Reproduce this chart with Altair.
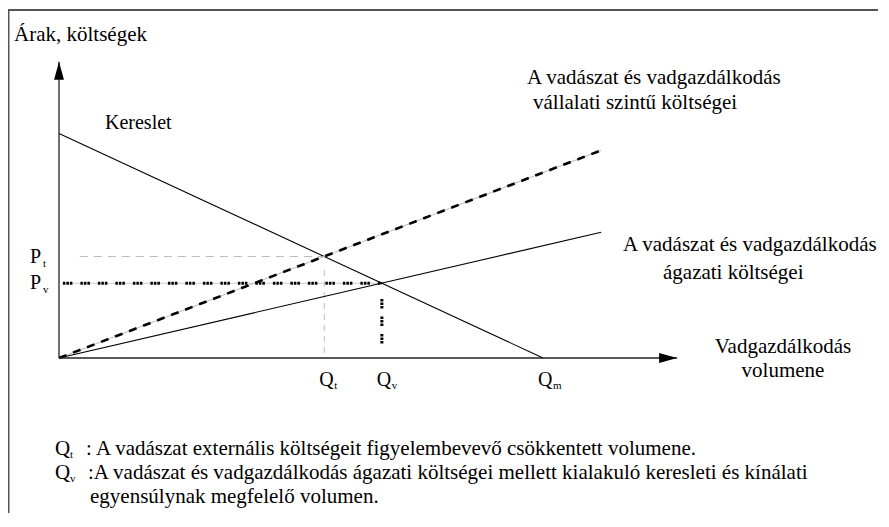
import altair as alt
import pandas as pd

FONT = "Liberation Serif"

# --- economic values ---
demand_q = [0.0, 10.0]
demand_p = [10.0, 0.0]
sector_q = [0.0, 11.2]
sector_p = [0.0, 5.6]
firm_q = [0.0, 11.2]
firm_p = [0.0, 9.25]
axis_x_max = 12.77
axis_y_max = 13.2
Q_v, P_v = 6.67, 3.33
Q_t, P_t = 5.48, 4.52
Q_m = 10.0
q_tick_values = [Q_t, Q_v, Q_m]
q_tick_subs = ["t", "v", "m"]
p_tick_values = [P_t, P_v]
p_tick_subs = ["t", "v"]

W, H = 870, 495
xdom = [-1.054, 16.92]
ydom = [-6.459, 15.59]

xs = alt.Scale(domain=xdom, nice=False, zero=False)
ys = alt.Scale(domain=ydom, nice=False, zero=False)


def seg_df(q, p):
    return pd.DataFrame({"q": [q[0]], "p": [p[0]], "q2": [q[1]], "p2": [p[1]]})


def seg(df, **mk):
    return alt.Chart(df).mark_rule(**mk).encode(
        x=alt.X("q:Q", scale=xs, axis=None),
        y=alt.Y("p:Q", scale=ys, axis=None),
        x2="q2:Q",
        y2="p2:Q",
    )


def label(text, x, y, align="left", size=21):
    return alt.Chart(alt.Data(values=[{}])).mark_text(
        text=text, align=align, baseline="middle", font=FONT, fontSize=size, color="black"
    ).encode(x=alt.value(x), y=alt.value(y))


layers = []

# frame
layers.append(alt.Chart(alt.Data(values=[{}])).mark_rule(color="#555", strokeWidth=2).encode(
    x=alt.value(0), x2=alt.value(W), y=alt.value(2)))
layers.append(alt.Chart(alt.Data(values=[{}])).mark_rule(color="#555", strokeWidth=2).encode(
    x=alt.value(0.5), y=alt.value(1), y2=alt.value(H + 10)))

# guide lines
layers.append(seg(seg_df([0.43, Q_t], [P_t, P_t]), color="#bbbbbb", strokeWidth=1, strokeDash=[8, 6]))
layers.append(seg(seg_df([Q_t, Q_t], [P_t - 0.6, 0]), color="#bbbbbb", strokeWidth=1, strokeDash=[6, 5]))
layers.append(seg(seg_df([0.08, Q_v], [P_v, P_v]), color="#cccccc", strokeWidth=1))
layers.append(seg(seg_df([0.08, Q_v], [P_v, P_v]), color="black", strokeWidth=3, strokeDash=[2.5, 1, 2.5, 1, 2.5, 8]))
layers.append(seg(seg_df([Q_v, Q_v], [P_v - 0.7, 0.4]), color="black", strokeWidth=3, strokeDash=[2.5, 1, 2.5, 1, 2.5, 8]))

# curves
layers.append(seg(seg_df(demand_q, demand_p), color="black", strokeWidth=1.1))
layers.append(seg(seg_df(sector_q, sector_p), color="black", strokeWidth=1.1))
layers.append(seg(seg_df(firm_q, firm_p), color="#bbbbbb", strokeWidth=1))
layers.append(seg(seg_df(firm_q, firm_p), color="black", strokeWidth=2.6, strokeDash=[8, 7]))

# axes
layers.append(seg(seg_df([0, axis_x_max], [0, 0]), color="#222", strokeWidth=1.3))
layers.append(seg(seg_df([0, 0], [0, axis_y_max]), color="#222", strokeWidth=1.3))
layers.append(alt.Chart(pd.DataFrame({"q": [0.0], "p": [axis_y_max]})).mark_point(
    shape="M0,0L0.55,2L-0.55,2Z", size=324, filled=True, color="black", opacity=1).encode(
    x=alt.X("q:Q", scale=xs, axis=None), y=alt.Y("p:Q", scale=ys, axis=None)))
layers.append(alt.Chart(pd.DataFrame({"q": [axis_x_max], "p": [0.0]})).mark_point(
    shape="M0,0L-2,-0.55L-2,0.55Z", size=324, filled=True, color="black", opacity=1).encode(
    x=alt.X("q:Q", scale=xs, axis=None), y=alt.Y("p:Q", scale=ys, axis=None)))

# tick-like labels on axes
qdf = pd.DataFrame({"q": q_tick_values, "sub": q_tick_subs})
layers.append(alt.Chart(qdf).mark_text(text="Q", align="left", baseline="middle", font=FONT,
                                       fontSize=20, color="black", dx=-5).encode(
    x=alt.X("q:Q", scale=xs, axis=None), y=alt.value(372)))
layers.append(alt.Chart(qdf).mark_text(align="left", baseline="middle", font=FONT,
                                       fontSize=11, color="black", dx=10).encode(
    x=alt.X("q:Q", scale=xs, axis=None), y=alt.value(378), text="sub:N"))
pdf = pd.DataFrame({"p": p_tick_values, "sub": p_tick_subs})
layers.append(alt.Chart(pdf).mark_text(text="P", align="left", baseline="middle", font=FONT,
                                       fontSize=20, color="black").encode(
    y=alt.Y("p:Q", scale=ys, axis=None), x=alt.value(22)))
layers.append(alt.Chart(pdf).mark_text(align="left", baseline="middle", font=FONT,
                                       fontSize=11, color="black", dy=7).encode(
    y=alt.Y("p:Q", scale=ys, axis=None), x=alt.value(35), text="sub:N"))

# text annotations
layers.append(label("Árak, költségek", 6, 27))
layers.append(label("Kereslet", 97, 115, size=20))
layers.append(label("A vadászat és vadgazdálkodás", 519, 70))
layers.append(label("vállalati szintű költségei", 525, 95))
layers.append(label("A vadászat és vadgazdálkodás", 615, 237))
layers.append(label("ágazati költségei", 655, 265))
layers.append(label("Vadgazdálkodás", 775, 339, align="center"))
layers.append(label("volumene", 775, 363, align="center"))

# footnote
layers.append(label("Q", 47, 441))
layers.append(label("t", 62, 447, size=11))
layers.append(label(": A vadászat externális költségeit figyelembevevő csökkentett volumene.", 78, 441))
layers.append(label("Q", 47, 465))
layers.append(label("v", 62, 471, size=11))
layers.append(label(":A vadászat és vadgazdálkodás ágazati költségei mellett kialakuló keresleti és kínálati", 80, 465))
layers.append(label("egyensúlynak megfelelő volumen.", 82, 489))

chart = alt.layer(*layers).properties(
    width=W, height=H,
    autosize=alt.AutoSizeParams(type="none"),
    padding={"left": 0, "top": 0, "right": 0, "bottom": 10},
    background="white",
).configure_view(stroke=None)

chart.save("out.html", embed_options={"renderer": "svg", "actions": False})
